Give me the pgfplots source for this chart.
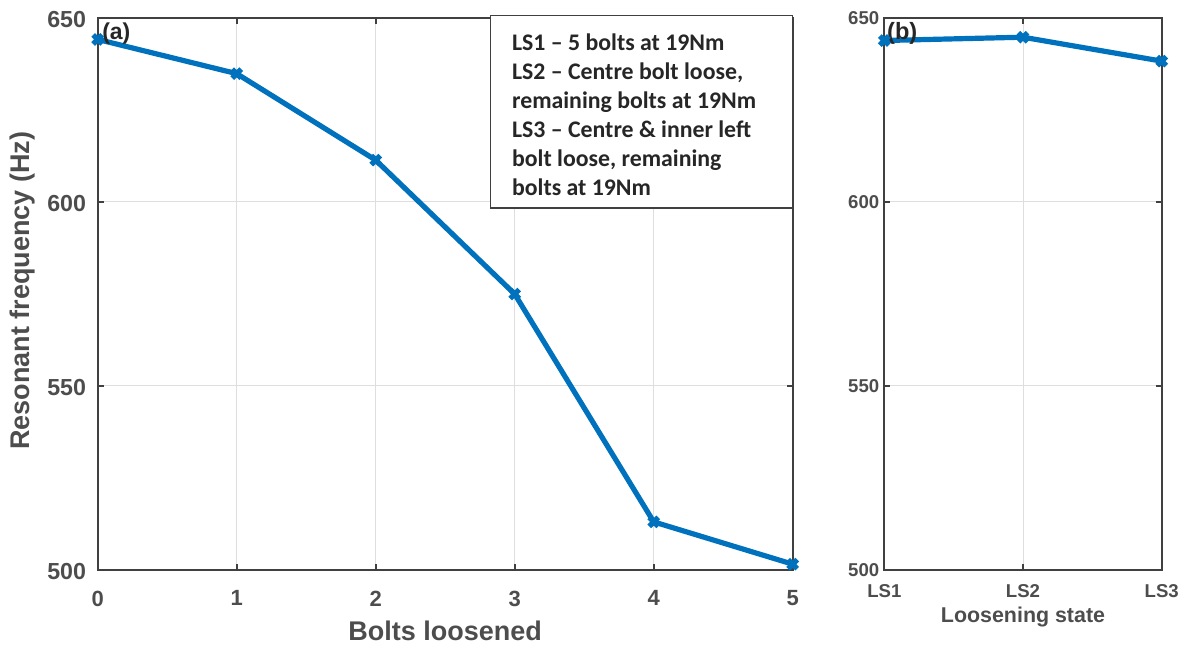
\documentclass[border=0pt]{standalone}
\usepackage{fontspec}
\setmainfont{Liberation Sans}
\newfontfamily\calibri{Carlito}
\usepackage{pgfplots}
\pgfplotsset{compat=1.18}

\definecolor{mblue}{RGB}{0,114,189}
\definecolor{axgray}{RGB}{64,64,64}
\definecolor{txtgray}{RGB}{77,77,77}
\definecolor{gridgray}{RGB}{222,222,222}
\definecolor{boxtext}{RGB}{38,38,38}

\pgfplotsset{
  freqaxis/.style={
    scale only axis,
    height=276pt,
    ymin=500, ymax=650,
    ytick={500,550,600,650},
    axis line style={axgray, line width=1pt},
    grid=major,
    major grid style={gridgray, line width=0.5pt},
    tick style={axgray, line width=1pt},
    major tick length=3pt,
    tick align=inside,
    clip=false,
    /pgf/number format/assume math mode=true,
    label style={text=txtgray},
    tick label style={text=txtgray},
  },
  freqline/.style={
    mblue, line width=2.6pt, mark=x,
    mark size=3.2pt, mark options={line width=2.6pt}
  }
}

\begin{document}
\begin{tikzpicture}
\useasboundingbox (0,0) rectangle (593.5pt,-324pt);

% (a) frequency against number of bolts loosened
\begin{axis}[
  freqaxis,
  at={(48.85pt,-284.85pt)}, anchor=south west,
  width=347.5pt,
  xmin=0, xmax=5,
  xtick={0,1,2,3,4,5},
  xticklabel style={font=\bfseries\fontsize{11}{13}\selectfont, yshift=-7pt},
  yticklabel style={font=\bfseries\fontsize{11.6}{13}\selectfont, xshift=-2.3pt, yshift=-1pt},
  xlabel={Bolts loosened},
  ylabel={Resonant frequency (Hz)},
  label style={font=\bfseries\fontsize{13.5}{16}\selectfont},
  xlabel style={at={(axis description cs:0.5,-0.111)}, anchor=center},
  ylabel style={at={(axis description cs:-0.108,0.505)}, anchor=center},
]
\addplot[freqline] coordinates {
  (0,644.1) (1,634.8) (2,611.3) (3,574.9) (4,513.0) (5,501.5)
};
\draw[axgray, line width=0.6pt, fill=white]
  (rel axis cs:0.5655,0.6553) rectangle (rel axis cs:1,1.0045);
\node[anchor=north west, inner sep=0pt, align=left, text=boxtext,
      font=\calibri\bfseries\fontsize{11.9}{14.5}\selectfont]
  at (rel axis cs:0.5957,0.9716)
  {LS1 – 5 bolts at 19Nm\\
   LS2 – Centre bolt loose,\\
   remaining bolts at 19Nm\\
   LS3 – Centre \& inner left\\
   bolt loose, remaining\\
   bolts at 19Nm};
\node[anchor=west, inner sep=0pt, text=boxtext,
      font=\bfseries\fontsize{11.5}{13}\selectfont]
  at (rel axis cs:0.006,0.9714) {(a)};
\end{axis}

% (b) frequency against loosening state
\begin{axis}[
  freqaxis,
  at={(442.15pt,-284.85pt)}, anchor=south west,
  width=138.7pt,
  xmin=1, xmax=3,
  xtick={1,2,3},
  xticklabels={LS1,LS2,LS3},
  tick label style={font=\bfseries\fontsize{9.3}{11}\selectfont},
  xticklabel style={yshift=-3.7pt},
  yticklabel style={xshift=1pt},
  xlabel={Loosening state},
  label style={font=\bfseries\fontsize{10.7}{13}\selectfont},
  xlabel style={at={(axis description cs:0.5,-0.0857)}, anchor=center},
]
\addplot[freqline] coordinates {
  (1,643.8) (2,644.7) (3,638.2)
};
\node[anchor=west, inner sep=0pt, text=boxtext,
      font=\bfseries\fontsize{11.8}{13}\selectfont]
  at (rel axis cs:0.009,0.9714) {(b)};
\end{axis}
\end{tikzpicture}
\end{document}
